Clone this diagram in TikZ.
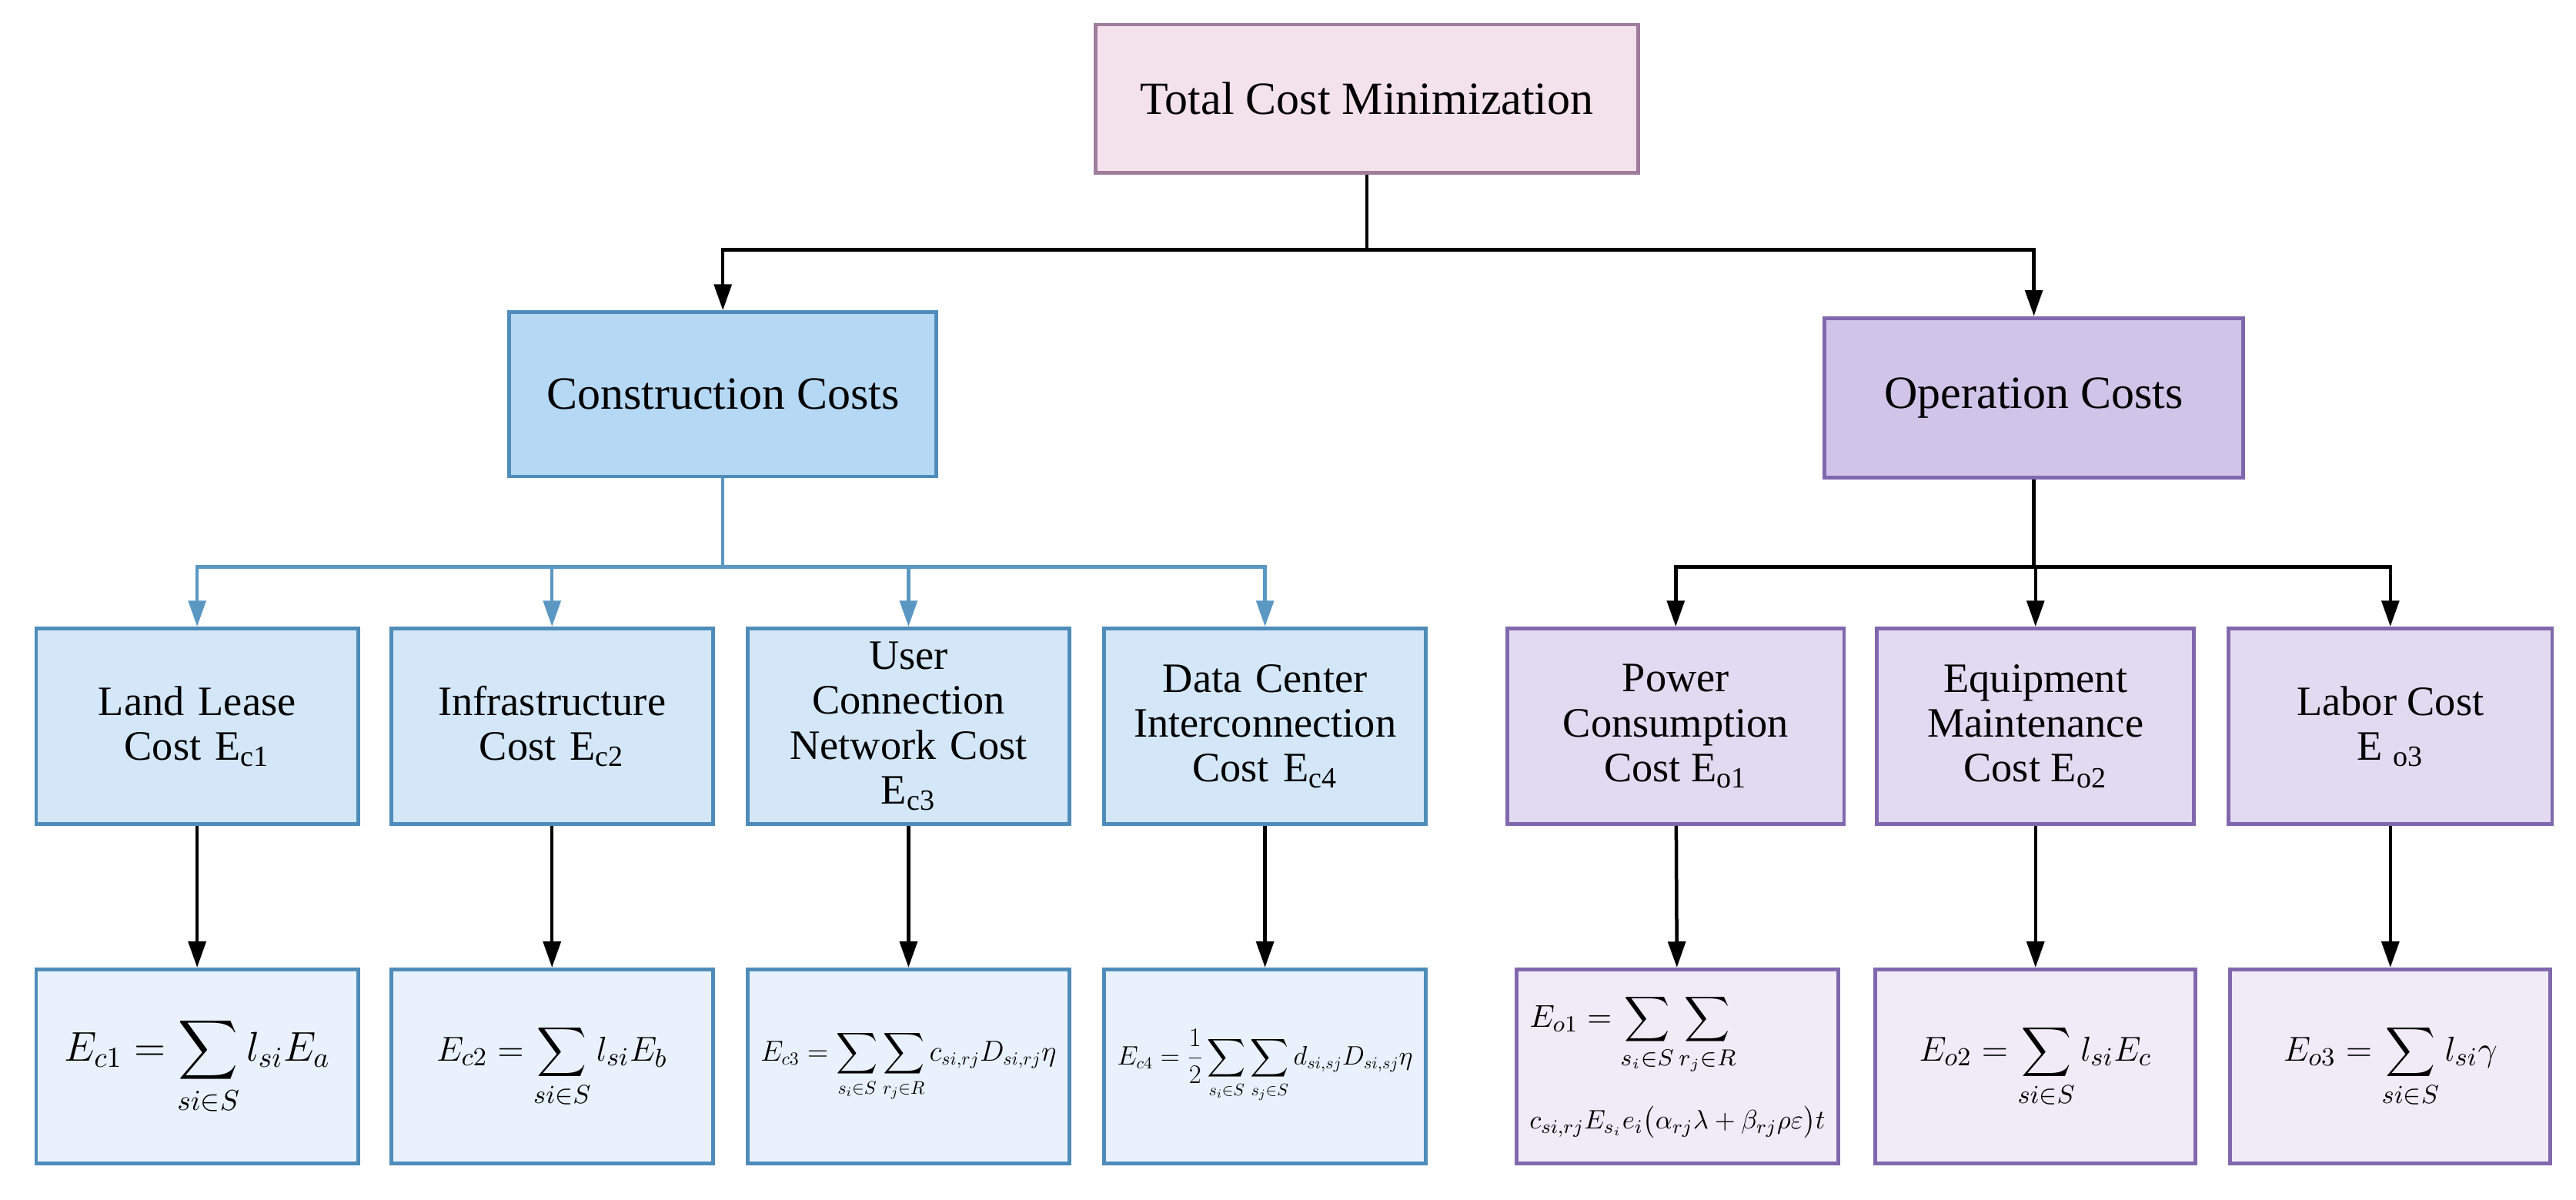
\documentclass[tikz,border=0pt]{standalone}
\usepackage{fontspec}
\setmainfont{Liberation Serif}
\usepackage{amsmath}
\usepackage{graphicx}
\usetikzlibrary{arrows.meta}
\definecolor{pkF}{HTML}{F3E1EC}\definecolor{pkD}{HTML}{A07C9C}
\definecolor{bA}{HTML}{B5D8F4}\definecolor{bB}{HTML}{D3E7F8}\definecolor{bC}{HTML}{E9F2FC}\definecolor{bD}{HTML}{4F8CBA}
\definecolor{pA}{HTML}{D0C4E9}\definecolor{pB}{HTML}{E2DAF1}\definecolor{pC}{HTML}{F0EBF7}\definecolor{pD}{HTML}{8068AE}
\definecolor{bl}{HTML}{5B97C3}
\tikzset{
 box/.style={draw, line width=1.3pt, inner sep=1pt, align=center, font=\fontsize{16}{18}\selectfont},
 top/.style={box, fill=pkF, draw=pkD, minimum width=6.6cm, minimum height=1.8cm},
 bl1/.style={box, fill=bA, draw=bD, minimum width=5.2cm, minimum height=2cm},
 pl1/.style={box, fill=pA, draw=pD, minimum width=5.1cm, minimum height=1.94cm},
 l2/.style={box, minimum height=2.38cm, font=\fontsize{14.5}{15.5}\selectfont},
 bl2/.style={l2, fill=bB, draw=bD, minimum width=3.92cm, text width=3.7cm},
 pl2/.style={l2, fill=pB, draw=pD},
 l3/.style={box, minimum height=2.36cm, inner sep=0pt},
 bl3/.style={l3, fill=bC, draw=bD, minimum width=3.92cm},
 pl3/.style={l3, fill=pC, draw=pD},
 ar/.style={-{Triangle[length=9pt,width=6pt]}, line width=1.2pt},
 ln/.style={line width=1.2pt},
}
\begin{document}
\begin{tikzpicture}[x=0.02cm,y=-0.02cm]
\useasboundingbox (0,0) rectangle (1568,730);
\node[top] (T) at (832,60) {Total Cost Minimization};
\node[bl1] (C) at (440,240) {Construction Costs};
\node[pl1] (O) at (1238,242) {Operation Costs};
\node[bl2] (a1) at (120,442) {Land Lease\\Cost E\textsubscript{c1}};
\node[bl2] (a2) at (336,442) {Infrastructure\\Cost E\textsubscript{c2}};
\node[bl2] (a3) at (553,442) {User\\Connection\\Network Cost\\E\textsubscript{c3}};
\node[bl2] (a4) at (770,442) {Data Center\\Interconnection\\Cost E\textsubscript{c4}};
\node[pl2, minimum width=4.1cm] (b1) at (1020,442) {Power\\Consumption\\Cost E\textsubscript{o1}};
\node[pl2, minimum width=3.86cm] (b2) at (1239,442) {Equipment\\Maintenance\\Cost E\textsubscript{o2}};
\node[pl2, minimum width=3.94cm] (b3) at (1455,442) {Labor Cost\\E \textsubscript{o3}};
\node[bl3, font=\fontsize{14}{16}\selectfont] (f1) at (120,649) {$\displaystyle E_{c1}=\sum_{si\in S} l_{si}E_a$};
\node[bl3, font=\fontsize{13}{15}\selectfont] (f2) at (336,649) {$\displaystyle E_{c2}=\sum_{si\in S} l_{si}E_b$};
\node[bl3] (f3) at (553,649) {\resizebox{3.6cm}{!}{$\displaystyle E_{c3}=\sum_{s_i\in S}\sum_{r_j\in R} c_{si,rj}D_{si,rj}\eta$}};
\node[bl3] (f4) at (770,649) {\resizebox{3.6cm}{!}{$\displaystyle E_{c4}=\frac{1}{2}\sum_{s_i\in S}\sum_{s_j\in S} d_{si,sj}D_{si,sj}\eta$}};
\node[pl3, minimum width=3.92cm, align=left, font=\fontsize{11}{13}\selectfont] (g1) at (1021,649) {$\displaystyle E_{o1}=\sum_{s_i\in S}\sum_{r_j\in R}$\\[10pt]\resizebox{3.6cm}{!}{$c_{si,rj}E_{s_i}e_i\bigl(\alpha_{rj}\lambda+\beta_{rj}\rho\varepsilon\bigr)t$}};
\node[pl3, minimum width=3.9cm, font=\fontsize{13}{15}\selectfont] (g2) at (1239,649) {$\displaystyle E_{o2}=\sum_{si\in S} l_{si}E_c$};
\node[pl3, minimum width=3.9cm, font=\fontsize{13}{15}\selectfont] (g3) at (1455,649) {$\displaystyle E_{o3}=\sum_{si\in S} l_{si}\gamma$};
\coordinate (j1) at (832,152);
\draw[ln] (T.south) -- (j1);
\draw[ar] (j1) -| (C.north);
\draw[ar] (j1) -| (O.north);
\coordinate (j2) at (440,345);
\draw[ln, bl] (C.south) -- (j2);
\foreach \n in {a1,a2,a3,a4} \draw[ar, bl] (j2) -| (\n.north);
\coordinate (j3) at (1238,345);
\draw[ln] (O.south) -- (j3);
\foreach \n in {b1,b2,b3} \draw[ar] (j3) -| (\n.north);
\draw[ar] (a1) -- (f1); \draw[ar] (a2) -- (f2); \draw[ar] (a3) -- (f3); \draw[ar] (a4) -- (f4);
\draw[ar] (b1) -- (g1); \draw[ar] (b2) -- (g2); \draw[ar] (b3) -- (g3);
\end{tikzpicture}
\end{document}
